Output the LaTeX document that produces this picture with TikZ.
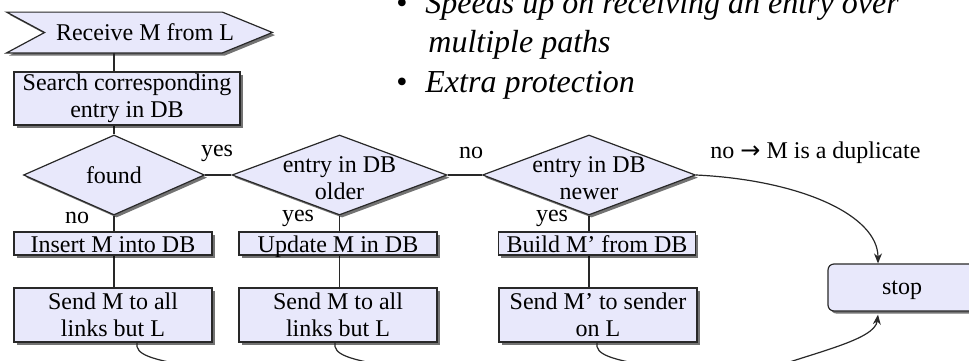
\documentclass[tikz,border=0pt]{standalone}
\usepackage{fontspec}
\setmainfont{Liberation Serif}
\newfontfamily\symfont{DejaVu Sans}
\usetikzlibrary{shapes.geometric,shadows,arrows.meta,calc,backgrounds}

\definecolor{boxfill}{RGB}{232,232,251}
\definecolor{edge}{RGB}{40,40,40}

\tikzset{
  castshadow/.style={drop shadow={shadow xshift=1.3pt,shadow yshift=-1.3pt,fill=black,opacity=0.55}},
  txt/.style={font=\fontsize{12}{13.5}\selectfont},
  proc/.style={draw=edge,line width=0.6pt,fill=boxfill,castshadow,inner sep=0pt,align=center,txt},
  oneline/.style={proc,text height=8.5pt,text depth=0pt,minimum height=11.5pt},
  decision/.style={diamond,draw=edge,line width=0.6pt,fill=boxfill,castshadow,inner sep=0pt},
  conn/.style={draw=edge,line width=0.6pt},
  tip/.style={-{Stealth[length=5pt,width=4pt]}},
  lbl/.style={txt,inner sep=0pt},
  bullettext/.style={font=\fontsize{16}{19}\selectfont\itshape,inner sep=0pt,anchor=base west},
  bulletdot/.style={font=\fontsize{16}{19}\selectfont,inner sep=0pt,anchor=base}
}

\begin{document}
\begin{tikzpicture}[x=0.5pt,y=-0.5pt]
\useasboundingbox (0,0) rectangle (969,360);
\clip (0,0) rectangle (969,360);

% start symbol
\node[inner sep=0pt,minimum width=132.5pt,minimum height=20pt,txt] (recv) at (139.5,32.5) {\hspace*{5.5pt}Receive M from L};

% process boxes
\node[proc,minimum width=113pt,minimum height=26.5pt] (search) at (127,98.5) {Search corresponding\\entry in DB};

\node[decision,minimum width=90.5pt,minimum height=40pt,
      label={[lbl]center:found}] (found) at (114,175) {};
\node[decision,minimum width=107.5pt,minimum height=40pt,
      label={[lbl,align=center,yshift=-1.5pt]center:entry in DB\\older}] (older) at (339.5,175) {};
\node[decision,minimum width=106.5pt,minimum height=40pt,
      label={[lbl,align=center,yshift=-1.5pt]center:entry in DB\\newer}] (newer) at (589,175) {};

\node[oneline,minimum width=99pt] (insert) at (113,243.5) {Insert M into DB};
\node[oneline,minimum width=99pt] (update) at (338,243.5) {Update M in DB};
\node[oneline,minimum width=98.5pt] (build) at (597,243.5) {Build M’ from DB};

\node[proc,minimum width=99pt,minimum height=27pt] (send1) at (113,315) {Send M to all\\links but L};
\node[proc,minimum width=99pt,minimum height=27pt] (send2) at (338,315) {Send M to all\\links but L};
\node[proc,minimum width=99pt,minimum height=27pt] (send3) at (598,315) {Send M’ to sender\\on L};

\node[proc,rounded corners=3pt,minimum width=74pt,minimum height=23.5pt,text depth=0pt] (stop) at (902,287.5) {stop};

\begin{pgfonlayer}{background}
% outline of the start symbol
\path[draw=edge,line width=0.6pt,fill=boxfill,castshadow]
  (recv.north west) -- ($(recv.north east)+(-50,0)$) -- (recv.east)
  -- ($(recv.south east)+(-50,0)$) -- (recv.south west)
  -- ($(recv.west)+(38,0)$) -- cycle;
% connectors run behind the boxes
\draw[conn] (recv.south -| found.north) -- (search.south -| found.north) -- (found.north);
\draw[conn] (found.east) -- (older.west);
\draw[conn] (older.east) -- (newer.west);
\draw[conn] (found.south) -- (insert.north -| found.south);
\draw[conn] (insert.south -| found.south) -- (send1.north -| found.south);
\draw[conn] (older.south) -- (update.north -| older.south);
\draw[conn] (update.south -| older.south) -- (send2.north -| older.south);
\draw[conn] (newer.south) -- (build.north -| newer.south);
\draw[conn] (build.south -| newer.south) -- (send3.north -| newer.south);
\end{pgfonlayer}

\coordinate (stopin) at ($(stop.north)+(-24,0)$);
\coordinate (stopback) at ($(stop.south)+(-24,3)$);
\draw[conn,tip] (newer.east) .. controls (800,180) and (878,215) .. (stopin);

% returns leaving the send boxes
\coordinate (r1) at ($(send1.south)+(24,0)$);
\coordinate (r2) at ($(send2.south)+(-3,0)$);
\coordinate (r3) at ($(send3.south)+(-1,0)$);
\foreach \r in {r1,r2,r3}{
  \coordinate (e\r) at ($(\r)+(63,25)$);
  \draw[conn] (\r) .. controls ($(\r)+(-2,12)$) and ($(e\r)+(-50,-8)$) .. (e\r);
}
\coordinate (rin) at (760,372);
\draw[conn,tip] (rin) .. controls (815,352) and (875,340) .. (stopback);

% branch labels
\node[lbl] (yes1) at (217,153) {yes};
\node[lbl] (no1) at (471,153) {no};
\node[lbl,anchor=west] (dup) at (710,153) {no {\symfont →} M is a duplicate};
\node[lbl] (no2) at (77,218) {no};
\node[lbl] (yes2) at (298,218) {yes};
\node[lbl] (yes3) at (552,218) {yes};

% notes
\node[bulletdot] (d1) at (402,13) {•};
\node[bullettext] (t1) at (425,13) {Speeds up on receiving an entry over};
\node[bullettext] (t2) at (428,52) {multiple paths};
\node[bulletdot] (d2) at (402,92) {•};
\node[bullettext] (t3) at (425,92) {Extra protection};
\end{tikzpicture}
\end{document}
